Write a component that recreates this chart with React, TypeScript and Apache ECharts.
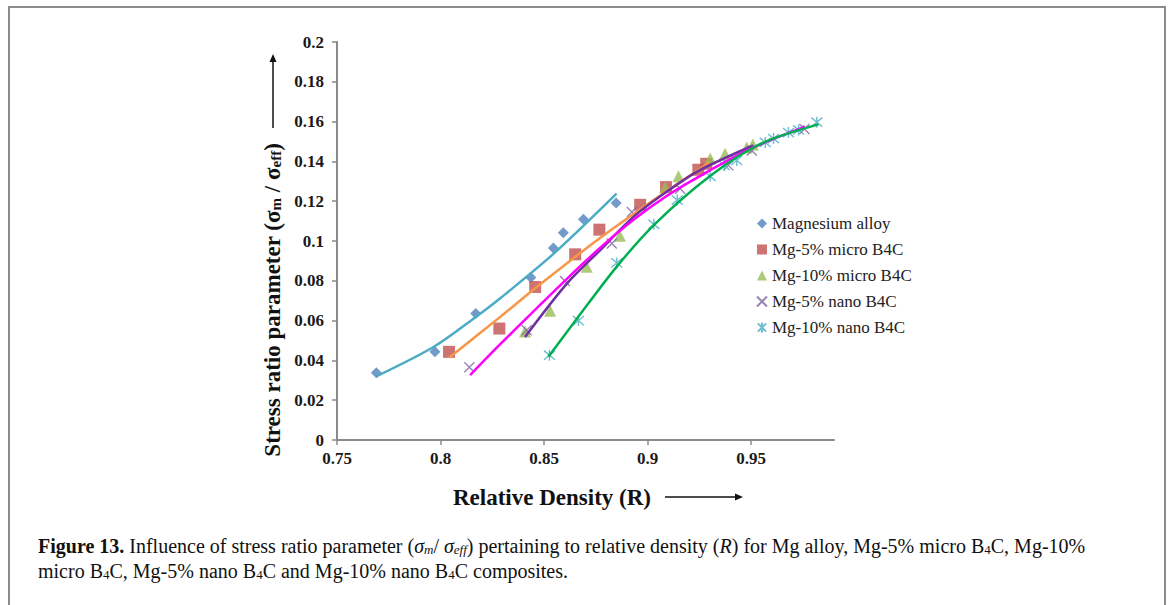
import React, { useEffect, useRef } from "react";
import * as echarts from "echarts";

const xTicks = [0.75, 0.8, 0.85, 0.9, 0.95];
const seriesNames = [
  "Magnesium alloy",
  "Mg-5% micro B4C",
  "Mg-10% micro B4C",
  "Mg-5% nano B4C",
  "Mg-10% nano B4C",
];

const alloyPts = [[0.769, 0.0338], [0.7973, 0.0443], [0.817, 0.0636], [0.8436, 0.0816], [0.8545, 0.0965], [0.8593, 0.1042], [0.869, 0.1109], [0.8848, 0.1191]];
const micro5Pts = [[0.8041, 0.0443], [0.8284, 0.056], [0.8457, 0.0769], [0.865, 0.0933], [0.8767, 0.1057], [0.8964, 0.1182], [0.9089, 0.1271], [0.9245, 0.1358], [0.9283, 0.1388]];
const micro10Pts = [[0.8408, 0.0545], [0.8529, 0.065], [0.8706, 0.087], [0.8866, 0.1027], [0.9085, 0.127], [0.9149, 0.1325], [0.9302, 0.1415], [0.9374, 0.1438], [0.9479, 0.147], [0.9508, 0.1485]];
const nano5Pts = [[0.8139, 0.0365], [0.8416, 0.0552], [0.8601, 0.0799], [0.8827, 0.0987], [0.8924, 0.1146], [0.9157, 0.1263], [0.939, 0.138], [0.9503, 0.1455], [0.9757, 0.1563]];
const nano10Pts = [[0.8526, 0.0426], [0.8666, 0.06], [0.8851, 0.089], [0.903, 0.1084], [0.9143, 0.1206], [0.9302, 0.1325], [0.937, 0.138], [0.943, 0.1405], [0.9568, 0.1495], [0.9608, 0.1515], [0.968, 0.1545], [0.9729, 0.1558], [0.9817, 0.1597]];

const alloyTrend = [[0.769, 0.032], [0.797, 0.047], [0.817, 0.0618], [0.8287, 0.0711], [0.8545, 0.0935], [0.885, 0.1238]];
const micro5Trend = [[0.8043, 0.0415], [0.829, 0.062], [0.846, 0.0765], [0.877, 0.1015], [0.9, 0.1185], [0.93, 0.1395]];
const micro10Trend = [[0.8408, 0.0518], [0.861, 0.0786], [0.877, 0.0953], [0.893, 0.112], [0.909, 0.1246], [0.925, 0.1355], [0.951, 0.148]];
const nano5Trend = [[0.8143, 0.0326], [0.8287, 0.048], [0.861, 0.081], [0.877, 0.0965], [0.893, 0.1105], [0.909, 0.1225], [0.925, 0.1325], [0.95, 0.1465], [0.976, 0.1575]];
const nano10Trend = [[0.8521, 0.0418], [0.8666, 0.062], [0.885, 0.087], [0.903, 0.108], [0.93, 0.1325], [0.955, 0.149], [0.9825, 0.1586]];

const markerColors = ["#4F81BD", "#C0504D", "#9BBB59", "#8064A2", "#4BACC6"];
const lineColors = ["#4BACC6", "#F79646", "#7030A0", "#FF00FF", "#00B050"];

const CROSS = "path://M0,0L10,10M10,0L0,10";
const STAR = "path://M0,0L10,10M10,0L0,10M5,-1L5,11";

export default function App() {
  const ref = useRef<HTMLDivElement>(null);
  useEffect(() => {
    if (!ref.current) return;
    const chart = echarts.init(ref.current, null, { renderer: "svg" });
    const serif = "'Liberation Serif', 'Times New Roman', serif";
    const pts = [alloyPts, micro5Pts, micro10Pts, nano5Pts, nano10Pts];
    const trends = [alloyTrend, micro5Trend, micro10Trend, nano5Trend, nano10Trend];
    const symbols = ["diamond", "rect", "triangle", CROSS, STAR];
    const sizes = [11, 12, 12, 10, 11];
    const scatter = pts.map((d, i) => ({
      type: "scatter",
      name: seriesNames[i],
      data: d,
      symbol: symbols[i],
      symbolSize: sizes[i],
      z: 2,
      itemStyle: i >= 3
        ? { color: markerColors[i], borderColor: markerColors[i], borderWidth: 1.4 }
        : { color: markerColors[i] },
    }));
    const lines = trends.map((d, i) => ({
      type: "line",
      name: seriesNames[i] + " trend",
      data: d,
      smooth: 0.3,
      showSymbol: false,
      symbol: "none",
      z: 3,
      lineStyle: { color: lineColors[i], width: 2.5 },
    }));
    const sub = (size: number, bold: boolean) => ({
      fontSize: size,
      lineHeight: size,
      verticalAlign: "bottom",
      fontFamily: serif,
      fontWeight: bold ? "bold" : "normal",
      fill: "#111",
    });
    chart.setOption({
      animation: false,
      backgroundColor: "#fff",
      grid: { left: 337, top: 42, width: 497, height: 398 },
      xAxis: {
        type: "value",
        min: 0.75,
        max: 0.99,
        interval: 0.05,
        splitLine: { show: false },
        axisLine: { lineStyle: { color: "#8a8a8a", width: 2 } },
        axisTick: { show: true, length: 5, lineStyle: { color: "#8a8a8a", width: 1.5 }, customValues: xTicks },
        axisLabel: {
          customValues: xTicks,
          margin: 10,
          color: "#1a1a1a",
          fontFamily: serif,
          fontWeight: "bold",
          fontSize: 17,
        },
      },
      yAxis: {
        type: "value",
        min: 0,
        max: 0.2,
        interval: 0.02,
        splitLine: { show: false },
        axisLine: { show: true, lineStyle: { color: "#8a8a8a", width: 2 } },
        axisTick: { show: true, length: 5, lineStyle: { color: "#8a8a8a", width: 1.5 } },
        axisLabel: {
          margin: 13,
          color: "#1a1a1a",
          fontFamily: serif,
          fontWeight: "bold",
          fontSize: 17,
        },
      },
      legend: {
        data: seriesNames,
        orient: "vertical",
        left: 751,
        top: 210,
        itemWidth: 10,
        itemHeight: 10,
        itemGap: 9,
        textStyle: { fontFamily: serif, fontSize: 17, lineHeight: 17, color: "#222" },
      },
      series: [...scatter, ...lines],
      graphic: [
        {
          type: "rect",
          shape: { x: 9, y: 7, width: 1156, height: 620 },
          style: { fill: "none", stroke: "#8c8c8c", lineWidth: 2 },
          silent: true,
        },
        {
          type: "text",
          x: 272,
          y: 300,
          rotation: Math.PI / 2,
          style: {
            text: "Stress ratio parameter (σ{sb|m} / σ{sb|eff})",
            font: "bold 23px " + serif,
            fill: "#111",
            align: "center",
            verticalAlign: "middle",
            rich: { sb: sub(15, true) },
          },
        },
        {
          type: "line",
          shape: { x1: 273, y1: 128, x2: 273, y2: 60 },
          style: { stroke: "#111", lineWidth: 1.5 },
        },
        {
          type: "polygon",
          shape: { points: [[273, 54], [269.5, 62], [276.5, 62]] },
          style: { fill: "#111" },
        },
        {
          type: "text",
          x: 552,
          y: 497,
          style: {
            text: "Relative Density (R)",
            font: "bold 23px " + serif,
            fill: "#111",
            align: "center",
            verticalAlign: "middle",
          },
        },
        {
          type: "line",
          shape: { x1: 665, y1: 497, x2: 736, y2: 497 },
          style: { stroke: "#111", lineWidth: 1.5 },
        },
        {
          type: "polygon",
          shape: { points: [[743, 497], [735, 493.5], [735, 500.5]] },
          style: { fill: "#111" },
        },
        {
          type: "text",
          x: 38,
          y: 546,
          style: {
            text:
              "{b|Figure 13.} Influence of stress ratio parameter ({i|σ}{is|m}/ {i|σ}{is|eff}) pertaining to relative density ({i|R}) for Mg alloy, Mg-5% micro B{s|4}C, Mg-10%",
            font: "20px " + serif,
            fill: "#111",
            align: "left",
            verticalAlign: "middle",
            rich: {
              b: { fontFamily: serif, fontSize: 20, fontWeight: "bold", fill: "#111" },
              i: { fontFamily: serif, fontSize: 20, fontStyle: "italic", fill: "#111" },
              is: { ...sub(13, false), fontStyle: "italic" },
              s: sub(13, false),
            },
          },
        },
        {
          type: "text",
          x: 38,
          y: 571,
          style: {
            text: "micro B{s|4}C, Mg-5% nano B{s|4}C and Mg-10% nano B{s|4}C composites.",
            font: "20px " + serif,
            fill: "#111",
            align: "left",
            verticalAlign: "middle",
            rich: { s: sub(13, false) },
          },
        },
      ],
    });
    return () => chart.dispose();
  }, []);
  return (
    <div
      ref={ref}
      style={{ position: "absolute", left: 0, top: 0, width: 1168, height: 605 }}
    />
  );
}
